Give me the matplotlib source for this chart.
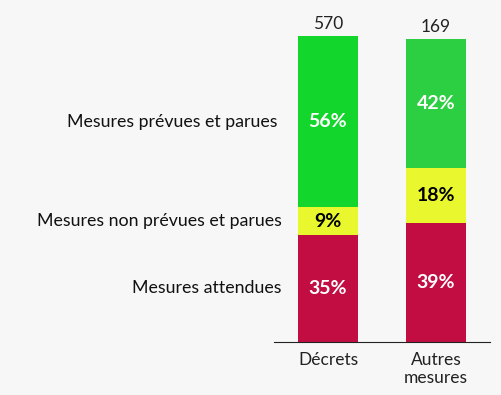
import matplotlib.pyplot as plt
import numpy as np

plt.rcParams['font.family'] = ['Lato', 'DejaVu Sans']

categories = ['Décrets', 'Autres\nmesures']
totals = [570, 169]
series = ['Mesures attendues', 'Mesures non prévues et parues', 'Mesures prévues et parues']
# percentages per series, one entry per category
attendues = [35, 39]
non_prevues = [9, 18]
prevues = [56, 42]

red = '#c20d42'
yellow = '#e9f72e'
greens = ['#12d62b', '#2dcf42']

fig = plt.figure(figsize=(5.01, 3.95), dpi=100, facecolor='#f7f7f7')
ax = fig.add_axes([274 / 501, 53 / 395, 216 / 501, 306 / 395])
ax.set_facecolor('#f7f7f7')

x = np.arange(len(categories))
w = 0.555
b1 = ax.bar(x, attendues, w, color=red)
b2 = ax.bar(x, non_prevues, w, bottom=attendues, color=yellow)
bottom3 = np.array(attendues) + np.array(non_prevues)
b3 = ax.bar(x, prevues, w, bottom=bottom3, color=greens)

for bars, vals, col in [(b1, attendues, 'white'), (b2, non_prevues, 'black'), (b3, prevues, 'white')]:
    ax.bar_label(bars, labels=[f'{v}%' for v in vals], label_type='center',
                 color=col, fontsize=14, fontweight='bold')

tops = bottom3 + np.array(prevues)
for xi, top, t in zip(x, tops, totals):
    ax.annotate(str(t), (xi, top), xytext=(0, 3), textcoords='offset points',
                ha='center', va='bottom', fontsize=12.5, color='#222222')

# series labels on the left, aligned with the first bar's segments
centers = [attendues[0] / 2, attendues[0] + non_prevues[0] / 2, bottom3[0] + prevues[0] / 2]
right = [0.037, 0.037, 0.018]
for name, yc, xr in zip(series, centers, right):
    ax.text(xr, yc, name, transform=ax.get_yaxis_transform(), ha='right', va='center',
            fontsize=12.8, color='#111111', clip_on=False)

ax.set_xlim(-0.5, 1.5)
ax.set_ylim(0, 100)
ax.set_xticks(x)
ax.set_xticklabels(categories, fontsize=12.5, color='#222222', linespacing=1.2)
ax.tick_params(axis='x', length=0, pad=7)
ax.set_yticks([])
for s in ['top', 'right', 'left']:
    ax.spines[s].set_visible(False)
ax.spines['bottom'].set_color('#222222')

fig.savefig('out.png', dpi=100, facecolor=fig.get_facecolor())
